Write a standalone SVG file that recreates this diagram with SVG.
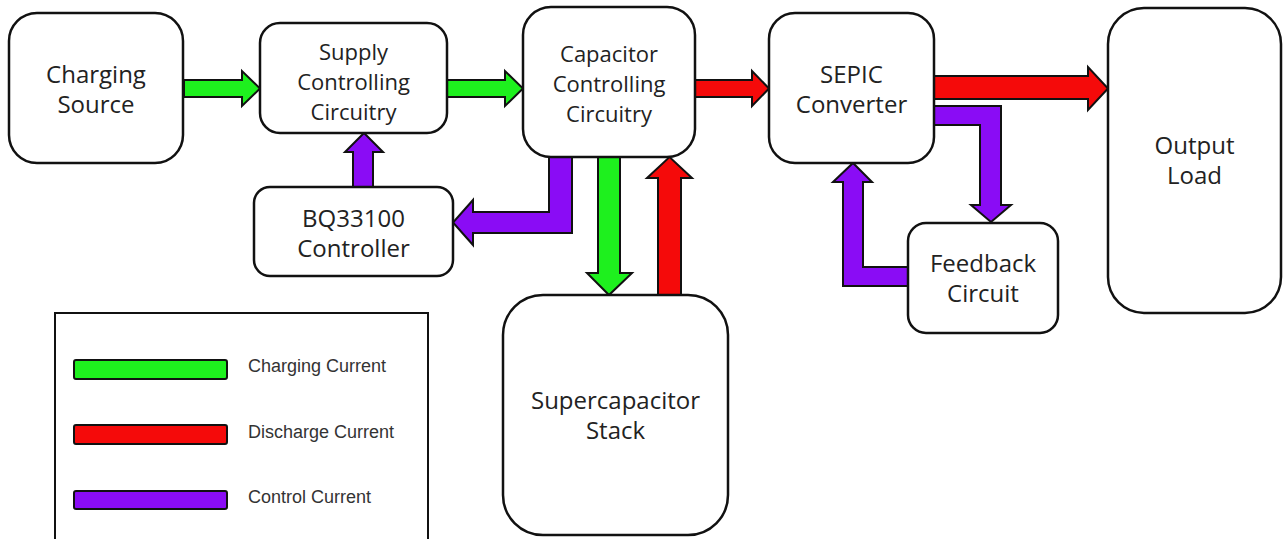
<svg xmlns="http://www.w3.org/2000/svg" width="1288" height="539" viewBox="0 0 1288 539">
<style>
.box{fill:#fff;stroke:#111;stroke-width:2.5}
.lbl{font-family:"Open Sans","Noto Sans",sans-serif;font-size:24px;fill:#222;text-anchor:middle}
.lbl3{font-size:22px}
.g{fill:#1ef01e;stroke:#111;stroke-width:2;stroke-linejoin:miter}
.r{fill:#f50a0a;stroke:#111;stroke-width:2}
.p{fill:#8a0cf5;stroke:#111;stroke-width:2}
.leg{font-family:"Liberation Sans",Arial,sans-serif;font-size:18px;fill:#333}
</style>
<rect width="1288" height="539" fill="#fff"/>
<g id="connectors">
<polygon class="g" points="184,80 242,80 242,71 260,88.5 242,106 242,97 184,97"/>
<polygon class="g" points="447,80 505,80 505,71 523,88.5 505,106 505,97 447,97"/>
<polygon class="r" points="695,80 752,80 752,71 769,88.5 752,106 752,97 695,97"/>
<polygon class="r" points="934,76 1088,76 1088,67 1108,88.5 1088,110 1088,99 934,99"/>
<polygon class="p" points="353,187 353,152 345,152 364,133 383,152 373,152 373,187"/>
<polygon class="p" points="549,157 572,157 572,233 473,233 473,245 453,222.5 473,200 473,212 549,212"/>
<polygon class="g" points="598,157 620,157 620,273 632,273 609,295 587,273 598,273"/>
<polygon class="r" points="658,295 681,295 681,178 692,178 669.5,157 647,178 658,178"/>
<polygon class="p" points="934,106 1001,106 1001,205 1011,205 991,222 971,205 980,205 980,125 934,125"/>
<polygon class="p" points="908,267 908,286 843,286 843,182 833,182 853,163 872,182 863,182 863,267"/>
</g>
<g id="charging-source"><rect class="box" x="9" y="13" width="174" height="150" rx="28"/><text class="lbl" x="96" y="83">Charging</text><text class="lbl" x="96" y="113">Source</text></g>
<g id="supply"><rect class="box" x="260" y="23" width="187" height="110" rx="20"/><text class="lbl lbl3" x="353.5" y="60">Supply</text><text class="lbl lbl3" x="353.5" y="90">Controlling</text><text class="lbl lbl3" x="353.5" y="120">Circuitry</text></g>
<g id="bq33100"><rect class="box" x="254" y="187" width="199" height="89" rx="16"/><text class="lbl" x="353.5" y="227">BQ33100</text><text class="lbl" x="353.5" y="257">Controller</text></g>
<g id="capacitor"><rect class="box" x="523" y="7" width="172" height="150" rx="28"/><text class="lbl lbl3" x="609" y="62">Capacitor</text><text class="lbl lbl3" x="609" y="92">Controlling</text><text class="lbl lbl3" x="609" y="122">Circuitry</text></g>
<g id="supercap"><rect class="box" x="503" y="295" width="225" height="240" rx="40"/><text class="lbl" x="615.5" y="409">Supercapacitor</text><text class="lbl" x="615.5" y="439">Stack</text></g>
<g id="sepic"><rect class="box" x="769" y="13" width="165" height="150" rx="26"/><text class="lbl" x="851.5" y="83">SEPIC</text><text class="lbl" x="851.5" y="113">Converter</text></g>
<g id="feedback"><rect class="box" x="908" y="223" width="150" height="110" rx="18"/><text class="lbl" x="983" y="272">Feedback</text><text class="lbl" x="983" y="302">Circuit</text></g>
<g id="output"><rect class="box" x="1108" y="8" width="173" height="305" rx="36"/><text class="lbl" x="1194.5" y="154">Output</text><text class="lbl" x="1194.5" y="184">Load</text></g>
<g id="legend">
<rect x="55" y="313" width="373" height="240" fill="#fff" stroke="#111" stroke-width="2"/>
<rect class="g" x="74" y="360" width="153" height="19" rx="2"/>
<rect class="r" x="74" y="425" width="153" height="19" rx="2"/>
<rect class="p" x="74" y="491" width="153" height="18" rx="2"/>
<text class="leg" x="248" y="372">Charging Current</text>
<text class="leg" x="248" y="438">Discharge Current</text>
<text class="leg" x="248" y="503">Control Current</text>
</g>
</svg>
